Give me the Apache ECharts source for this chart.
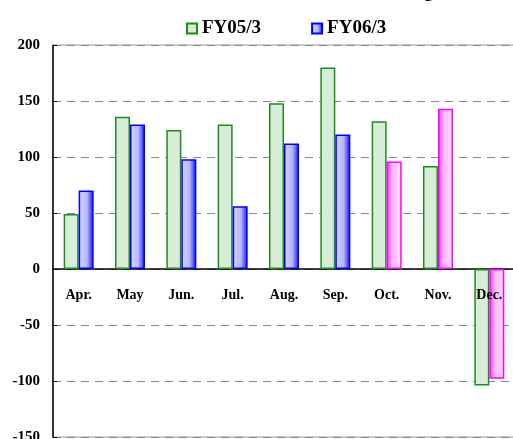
<!DOCTYPE html>
<html>
<head>
<meta charset="utf-8">
<script src="https://cdn.jsdelivr.net/npm/echarts@6/dist/echarts.min.js"></script>
<style>
  html, body { margin: 0; padding: 0; background: #fff; }
  #chart { width: 513px; height: 439px; }
</style>
</head>
<body>
<div id="chart"></div>
<script>
  // months and values
  var months = ['Apr.', 'May', 'Jun.', 'Jul.', 'Aug.', 'Sep.', 'Oct.', 'Nov.', 'Dec.'];
  var fy05 = [49, 136, 124, 129, 148, 180, 132, 92, -104];
  var fy06 = [70, 129, 98, 56, 112, 120, 96, 143, -98];
  var seriesNames = ['FY05/3', 'FY06/3'];
  var yTicks = [-150, -100, -50, 0, 50, 100, 150, 200];

  var font = '"Liberation Serif", "Times New Roman", serif';

  var blueFill = new echarts.graphic.LinearGradient(0, 0, 1, 0, [
    { offset: 0, color: '#d4d4ff' },
    { offset: 0.55, color: '#b8b8ff' },
    { offset: 1, color: '#1010f0' }
  ]);
  function pinkFill() {
    return new echarts.graphic.LinearGradient(0, 0, 1, 0, [
      { offset: 0, color: '#ff30ff' },
      { offset: 0.35, color: '#ffb0ff' },
      { offset: 1, color: '#ffe6ff' }
    ]);
  }

  // the last three months of FY06/3 are drawn in pink
  var fy06Data = fy06.map(function (v, i) {
    if (i < 6) return v;
    return { value: v, itemStyle: { color: pinkFill(), borderColor: '#ff00ff' } };
  });

  var myChart = echarts.init(document.getElementById('chart'));

  var option = {
    backgroundColor: '#fff',
    animation: false,
    // title is cut off at the top of the picture
    graphic: [{
      type: 'text',
      right: 80,
      top: -17,
      style: { text: 'Order Backlog', font: 'bold 18px ' + font, fill: '#000' }
    }],
    legend: {
      data: seriesNames,
      left: 181,
      top: 14,
      icon: 'rect',
      itemWidth: 10,
      itemHeight: 10,
      itemGap: 50,
      textStyle: { fontFamily: font, fontWeight: 'bold', fontSize: 19, color: '#000' }
    },
    grid: [
      {
        left: 53, right: -2, top: 45, bottom: 2,
        outerBoundsMode: 'none',
        show: true, borderColor: '#999', borderWidth: 1
      },
      // upper half only, used to place month labels just under the zero line
      { left: 53, right: -2, top: 45, bottom: 170, outerBoundsMode: 'none' }
    ],
    xAxis: [
      {
        type: 'category',
        gridIndex: 0,
        data: months,
        axisLine: { onZero: true, lineStyle: { color: '#000', width: 1.5 } },
        axisTick: { inside: true, length: 5, lineStyle: { color: '#000' } },
        axisLabel: { show: false }
      },
      {
        type: 'category',
        gridIndex: 1,
        data: months,
        z: 5,
        axisLine: { show: false },
        axisTick: { show: false },
        axisLabel: {
          margin: 19,
          fontFamily: font,
          fontWeight: 'bold',
          fontSize: 14,
          color: '#000'
        }
      }
    ],
    yAxis: [
      {
        type: 'value',
        gridIndex: 0,
        min: yTicks[0],
        max: yTicks[yTicks.length - 1],
        interval: 50,
        axisLine: { show: true, lineStyle: { color: '#000', width: 1.5 } },
        axisTick: { show: true, inside: true, length: 4, lineStyle: { color: '#000' } },
        axisLabel: {
          margin: 13,
          fontFamily: font,
          fontWeight: 'bold',
          fontSize: 15,
          color: '#000'
        },
        splitLine: {
          lineStyle: { color: '#8a86a6', type: [8, 6], width: 1 }
        }
      },
      {
        type: 'value',
        gridIndex: 1,
        show: false
      }
    ],
    series: [
      {
        name: seriesNames[0],
        type: 'bar',
        data: fy05,
        barWidth: 15,
        barGap: '0%',
        itemStyle: { color: '#d7edd7', borderColor: '#1f8c1f', borderWidth: 1.5 }
      },
      {
        name: seriesNames[1],
        type: 'bar',
        data: fy06Data,
        barWidth: 15,
        itemStyle: { color: blueFill, borderColor: '#0000ff', borderWidth: 1.5 }
      }
    ]
  };

  myChart.setOption(option);
</script>
</body>
</html>
